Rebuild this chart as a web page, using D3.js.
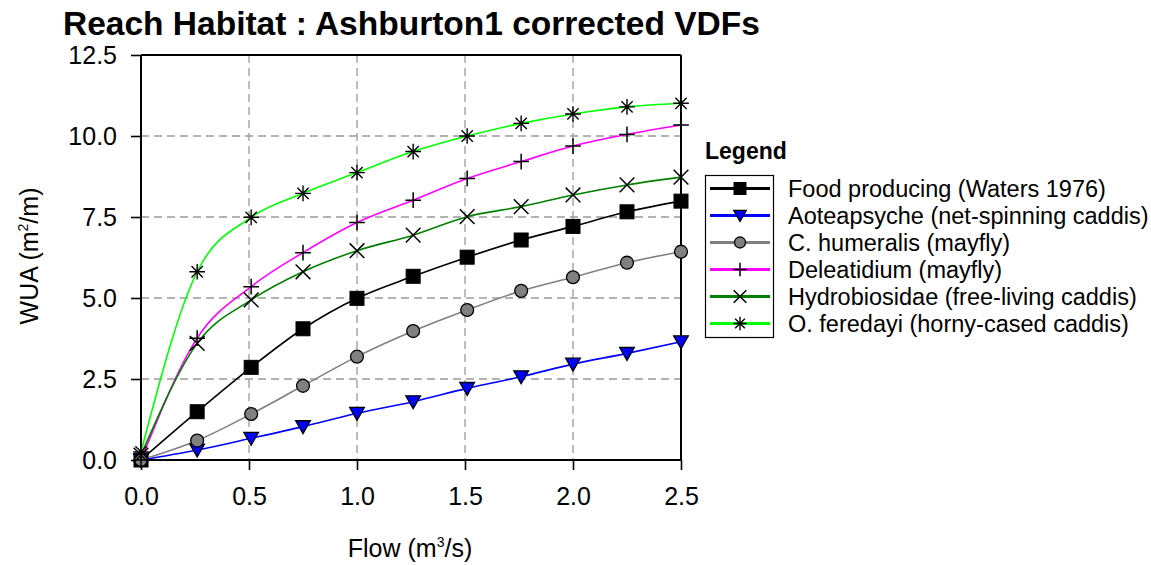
<!DOCTYPE html>
<html>
<head>
<meta charset="utf-8">
<script src="https://cdn.jsdelivr.net/npm/d3@7"></script>
<style>
  html, body { margin: 0; padding: 0; background: #fff; }
  svg { display: block; font-family: "Liberation Sans", Arial, sans-serif; }
</style>
</head>
<body>
<svg id="chart" width="1151" height="565"></svg>
<script>
// Flow values (m3/s) at which habitat was computed
const flow = [0, 0.26, 0.51, 0.75, 1.0, 1.26, 1.51, 1.76, 2.0, 2.25, 2.5];

// Weighted usable area (m2/m) per habitat curve
const foodProducing = [0, 1.49, 2.86, 4.05, 4.99, 5.67, 6.26, 6.79, 7.21, 7.66, 7.99];
const aoteapsyche   = [0, 0.31, 0.67, 1.03, 1.44, 1.80, 2.21, 2.57, 2.96, 3.29, 3.65];
const cHumeralis    = [0, 0.60, 1.42, 2.29, 3.19, 3.98, 4.63, 5.22, 5.64, 6.09, 6.43];
const deleatidium   = [0, 3.76, 5.35, 6.40, 7.33, 8.02, 8.69, 9.21, 9.69, 10.05, 10.34];
const hydrobiosidae = [0.15, 3.60, 4.94, 5.81, 6.46, 6.94, 7.51, 7.82, 8.18, 8.49, 8.73];
const oFeredayi     = [0.25, 5.81, 7.49, 8.23, 8.87, 9.52, 10.0, 10.39, 10.68, 10.90, 11.01];

const seriesNames = [
  "Food producing (Waters 1976)",
  "Aoteapsyche (net-spinning caddis)",
  "C. humeralis (mayfly)",
  "Deleatidium (mayfly)",
  "Hydrobiosidae (free-living caddis)",
  "O. feredayi (horny-cased caddis)"
];
const seriesValues = [foodProducing, aoteapsyche, cHumeralis, deleatidium, hydrobiosidae, oFeredayi];
const seriesColors = ["#000000", "#0000ff", "#808080", "#ff00ff", "#008000", "#00ff00"];
const seriesMarkers = ["square", "triangleDown", "circle", "plus", "cross", "asterisk"];

const xTicks = [0, 0.5, 1.0, 1.5, 2.0, 2.5];
const yTicks = [0, 2.5, 5.0, 7.5, 10.0, 12.5];

const svg = d3.select("#chart");
const plotLeft = 141, plotRight = 681, plotTop = 55, plotBottom = 460;

const x = d3.scaleLinear().domain([0, 2.5]).range([plotLeft, plotRight]);
const y = d3.scaleLinear().domain([0, 12.5]).range([plotBottom, plotTop]);

// Title
svg.append("text")
  .attr("x", 63).attr("y", 35)
  .attr("font-size", 33.5).attr("font-weight", "bold")
  .text("Reach Habitat : Ashburton1 corrected VDFs");

// Dashed grid
const grid = svg.append("g").attr("stroke", "#9a9a9a").attr("stroke-width", 1.3)
  .attr("stroke-dasharray", "8,5").attr("fill", "none");
xTicks.filter(t => t > 0 && t < 2.5).forEach(t => {
  grid.append("line").attr("x1", x(t)).attr("x2", x(t)).attr("y1", plotTop).attr("y2", plotBottom);
});
yTicks.filter(t => t > 0 && t < 12.5).forEach(t => {
  grid.append("line").attr("x1", plotLeft).attr("x2", plotRight).attr("y1", y(t)).attr("y2", y(t));
});

// Axes
const xAxis = svg.append("g").attr("transform", `translate(0,${plotBottom})`)
  .call(d3.axisBottom(x).tickValues(xTicks).tickFormat(d3.format(".1f")).tickSize(10).tickPadding(17));
const yAxis = svg.append("g").attr("transform", `translate(${plotLeft},0)`)
  .call(d3.axisLeft(y).tickValues(yTicks).tickFormat(d3.format(".1f")).tickSize(10).tickPadding(14));
[xAxis, yAxis].forEach(a => {
  a.select(".domain").attr("stroke", "#000").attr("stroke-width", 2);
  a.selectAll(".tick line").attr("stroke", "#000").attr("stroke-width", 1.6);
  a.selectAll(".tick text").attr("font-size", 25).attr("fill", "#000")
    .attr("font-family", "Liberation Sans, Arial, sans-serif");
});
xAxis.select(".domain").attr("d", `M${plotLeft},0H${plotRight}`);
yAxis.select(".domain").attr("d", `M0,${plotBottom}V${plotTop}`);

// Frame top and right
svg.append("line").attr("x1", plotLeft).attr("x2", plotRight).attr("y1", plotTop).attr("y2", plotTop)
  .attr("stroke", "#000").attr("stroke-width", 2);
svg.append("line").attr("x1", plotRight).attr("x2", plotRight).attr("y1", plotTop).attr("y2", plotBottom)
  .attr("stroke", "#000").attr("stroke-width", 2);

// Axis titles
const xTitle = svg.append("text").attr("x", 410).attr("y", 557)
  .attr("text-anchor", "middle").attr("font-size", 25);
xTitle.append("tspan").text("Flow (m");
xTitle.append("tspan").attr("font-size", 14).attr("dy", -10).text("3");
xTitle.append("tspan").attr("dy", 10).text("/s)");

const yTitle = svg.append("text")
  .attr("transform", "translate(38,256) rotate(-90)")
  .attr("text-anchor", "middle").attr("font-size", 25);
yTitle.append("tspan").text("WUA (m");
yTitle.append("tspan").attr("font-size", 14).attr("dy", -10).text("2");
yTitle.append("tspan").attr("dy", 10).text("/m)");

// Marker drawing
function drawMarker(g, type, size) {
  const h = size / 2;
  if (type === "square") {
    g.append("rect").attr("x", -h).attr("y", -h).attr("width", size).attr("height", size)
      .attr("fill", "#000").attr("stroke", "#000").attr("stroke-width", 1);
  } else if (type === "triangleDown") {
    const t = h * 1.05;
    g.append("path").attr("d", `M${-t},${-t * 0.8}L${t},${-t * 0.8}L0,${t * 0.95}Z`)
      .attr("fill", "#0000ff").attr("stroke", "#000").attr("stroke-width", 1.3);
  } else if (type === "circle") {
    g.append("circle").attr("r", h * 0.92)
      .attr("fill", "#808080").attr("stroke", "#000").attr("stroke-width", 1.3);
  } else if (type === "plus") {
    const p = h * 1.12;
    g.append("path").attr("d", `M${-p},0H${p}M0,${-p}V${p}`)
      .attr("stroke", "#000").attr("stroke-width", 1.5).attr("fill", "none");
  } else if (type === "cross") {
    const c = h * 1.05;
    g.append("path").attr("d", `M${-c},${-c}L${c},${c}M${-c},${c}L${c},${-c}`)
      .attr("stroke", "#000").attr("stroke-width", 1.5).attr("fill", "none");
  } else if (type === "asterisk") {
    const a = h * 1.12, d = a * 0.72;
    g.append("path").attr("d", `M${-d},${-d}L${d},${d}M${-d},${d}L${d},${-d}M0,${-a}V${a}M${-a},0H${a}`)
      .attr("stroke", "#000").attr("stroke-width", 1.4).attr("fill", "none");
  }
}

// Lines
const line = d3.line().x(d => x(d[0])).y(d => y(d[1])).curve(d3.curveMonotoneX);
const lines = svg.append("g").attr("fill", "none");
seriesValues.forEach((vals, i) => {
  const pts = flow.map((f, j) => [f, vals[j]]);
  lines.append("path").attr("d", line(pts))
    .attr("stroke", seriesColors[i]).attr("stroke-width", 1.6);
});

// Markers
const markers = svg.append("g");
seriesValues.forEach((vals, i) => {
  flow.forEach((f, j) => {
    const g = markers.append("g").attr("transform", `translate(${x(f)},${y(vals[j])})`);
    drawMarker(g, seriesMarkers[i], 14);
  });
});

// Legend
svg.append("text").attr("x", 705).attr("y", 159)
  .attr("font-size", 23).attr("font-weight", "bold").text("Legend");
svg.append("rect").attr("x", 705.5).attr("y", 175.5).attr("width", 68).attr("height", 162)
  .attr("fill", "#fff").attr("stroke", "#000").attr("stroke-width", 1.2);
seriesNames.forEach((name, i) => {
  const cy = 188.5 + i * 27;
  svg.append("line").attr("x1", 710).attr("x2", 770).attr("y1", cy).attr("y2", cy)
    .attr("stroke", seriesColors[i]).attr("stroke-width", 3);
  const g = svg.append("g").attr("transform", `translate(740,${cy})`);
  drawMarker(g, seriesMarkers[i], 12);
  svg.append("text").attr("x", 788).attr("y", cy + 8.5)
    .attr("font-size", 23.5).text(name);
});
</script>
</body>
</html>
